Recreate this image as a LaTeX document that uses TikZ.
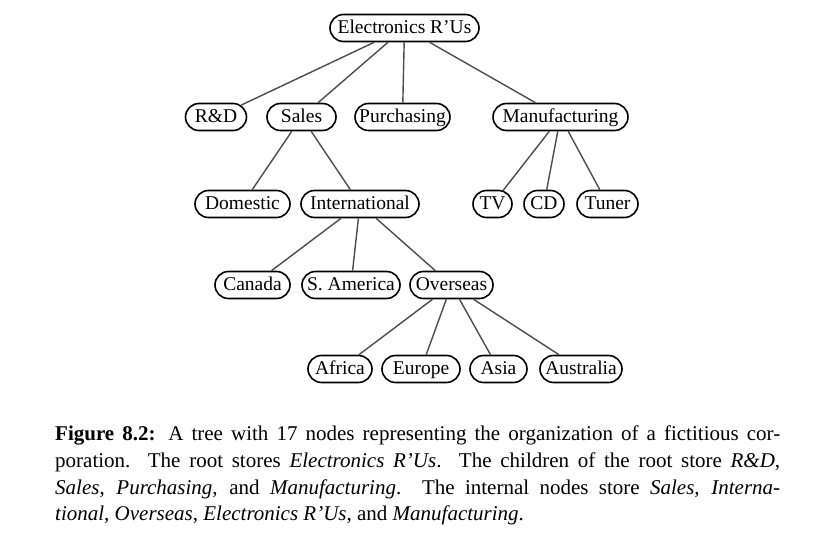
\documentclass[tikz,border=0pt]{standalone}
\usepackage{fontspec}
\setmainfont{Liberation Serif}
\usetikzlibrary{shapes.misc}
\begin{document}
\begin{tikzpicture}[x=1pt,y=-1pt,
  tnode/.style={draw=black, line width=1.6pt, rounded rectangle, inner xsep=0pt, inner ysep=0pt, minimum height=27pt, text height=15.5pt, text depth=4pt, font=\fontsize{19.5}{22}\selectfont},
  tedge/.style={draw=black!70, line width=1.4pt},
  capline/.style={anchor=base west, inner sep=0pt, font=\fontsize{21}{26.5}\selectfont}]
\useasboundingbox (0,0) rectangle (836,537);
% row 0
\node[tnode, minimum width=149pt] (root) at (404.5,28) {Electronics R’Us};
% row 1
\node[tnode, minimum width=61pt] (rd) at (216,117) {R\&D};
\node[tnode, minimum width=69pt] (sales) at (301.5,117) {Sales};
\node[tnode, minimum width=93pt] (purch) at (402.5,117) {Purchasing};
\node[tnode, minimum width=135pt] (manu) at (560.5,117) {Manufacturing};
% row 2
\node[tnode, minimum width=95pt] (dom) at (242.5,204) {Domestic};
\node[tnode, minimum width=118pt] (intl) at (360,204) {International};
\node[tnode, minimum width=39pt] (tv) at (492.5,204) {TV};
\node[tnode, minimum width=40pt] (cd) at (544,204) {CD};
\node[tnode, minimum width=61pt] (tuner) at (607.5,204) {Tuner};
% row 3
\node[tnode, minimum width=75pt] (canada) at (252.5,285) {Canada};
\node[tnode, minimum width=98pt] (samer) at (351,285) {S. America};
\node[tnode, minimum width=83pt] (over) at (451.5,285) {Overseas};
% row 4
\node[tnode, minimum width=64pt] (africa) at (340,369) {Africa};
\node[tnode, minimum width=78pt] (europe) at (421,369) {Europe};
\node[tnode, minimum width=57pt] (asia) at (498.5,369) {Asia};
\node[tnode, minimum width=82pt] (austr) at (581,369) {Australia};
% edges
\draw[tedge] (root) -- (rd);
\draw[tedge] (root) -- (sales);
\draw[tedge] (root) -- (purch);
\draw[tedge] (root) -- (manu);
\draw[tedge] (sales) -- (dom);
\draw[tedge] (sales) -- (intl);
\draw[tedge] (manu) -- (tv);
\draw[tedge] (manu) -- (cd);
\draw[tedge] (manu) -- (tuner);
\draw[tedge] (intl) -- (canada);
\draw[tedge] (intl) -- (samer);
\draw[tedge] (intl) -- (over);
\draw[tedge] (over) -- (africa);
\draw[tedge] (over) -- (europe);
\draw[tedge] (over) -- (asia);
\draw[tedge] (over) -- (austr);
% caption
\node[capline] (cap1) at (55,441) {\hbox to 725pt{\textbf{Figure 8.2:} A tree with 17 nodes representing the organization of a fictitious cor-}};
\node[capline] (cap2) at (55,467.5) {\hbox to 725pt{poration.\ \ The root stores \textit{Electronics R’Us}.\ \ The children of the root store \textit{R\&D},}};
\node[capline] (cap3) at (55,494) {\hbox to 725pt{\textit{Sales}, \textit{Purchasing}, and \textit{Manufacturing}.\ \ The internal nodes store \textit{Sales}, \textit{Interna-}}};
\node[capline] (cap4) at (55,520.5) {\textit{tional}, \textit{Overseas}, \textit{Electronics R’Us}, and \textit{Manufacturing}.};
\end{tikzpicture}
\end{document}
